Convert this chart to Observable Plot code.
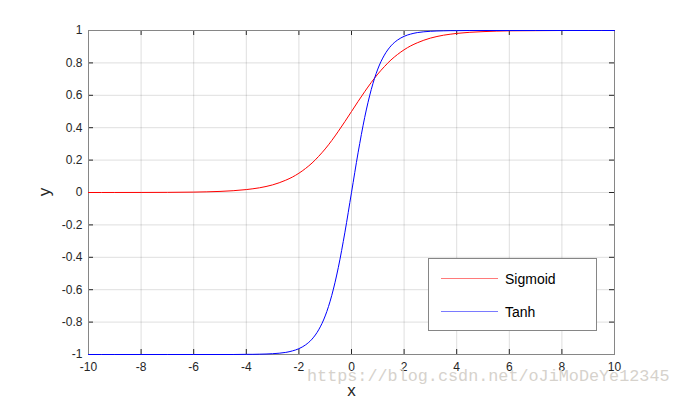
<!DOCTYPE html>
<html>
<head>
<meta charset="utf-8">
<script src="https://cdn.jsdelivr.net/npm/d3@7"></script>
<script src="https://cdn.jsdelivr.net/npm/@observablehq/plot@0.6"></script>
<style>
  html, body { margin: 0; padding: 0; background: #fff; }
  #wrap { position: relative; width: 680px; height: 399px; overflow: hidden; font-family: "Liberation Sans", Arial, sans-serif; }
  #legend { position: absolute; left: 428px; top: 258px; width: 167px; height: 71px; border: 1px solid #868686; background: #fff; box-sizing: content-box; }
  .li { position: absolute; left: 12px; height: 20px; width: 160px; }
  .li .sw { position: absolute; left: 0; top: 9px; width: 57px; height: 0; border-top: 1px solid; }
  .li .lb { position: absolute; left: 64px; top: 0; font-size: 14px; line-height: 20px; color: #000; }
  #wm { position: absolute; left: 307px; top: 367px; font-family: "Liberation Mono", "DejaVu Sans Mono", monospace; font-size: 16.8px; color: #d6d2cc; white-space: nowrap; }
</style>
</head>
<body>
<div id="wrap"></div>
<script>
const xValues = [-10, -9, -8, -7, -6, -5, -4.5, -4, -3.75, -3.5, -3.25, -3, -2.75, -2.5, -2.25, -2, -1.75, -1.5, -1.25, -1, -0.75, -0.5, -0.25, 0, 0.25, 0.5, 0.75, 1, 1.25, 1.5, 1.75, 2, 2.25, 2.5, 2.75, 3, 3.25, 3.5, 3.75, 4, 4.5, 5, 6, 7, 8, 9, 10];
const sigmoidValues = [0.000, 0.0001, 0.0003, 0.0009, 0.0025, 0.0067, 0.011, 0.018, 0.023, 0.029, 0.037, 0.047, 0.060, 0.076, 0.095, 0.119, 0.148, 0.182, 0.223, 0.269, 0.321, 0.378, 0.438, 0.500, 0.562, 0.622, 0.679, 0.731, 0.777, 0.818, 0.852, 0.881, 0.905, 0.924, 0.940, 0.953, 0.963, 0.971, 0.977, 0.982, 0.989, 0.993, 0.998, 0.999, 1.000, 1.000, 1.000];
const tanhValues = [-1, -1, -1, -1, -1, -1, -1, -0.999, -0.999, -0.998, -0.997, -0.995, -0.992, -0.987, -0.978, -0.964, -0.941, -0.905, -0.848, -0.762, -0.635, -0.462, -0.245, 0, 0.245, 0.462, 0.635, 0.762, 0.848, 0.905, 0.941, 0.964, 0.978, 0.987, 0.992, 0.995, 0.997, 0.998, 0.999, 0.999, 1, 1, 1, 1, 1, 1, 1];
const xTicks = [-10, -8, -6, -4, -2, 0, 2, 4, 6, 8, 10];
const yTicks = [-1, -0.8, -0.6, -0.4, -0.2, 0, 0.2, 0.4, 0.6, 0.8, 1];
const seriesNames = ["Sigmoid", "Tanh"];
const seriesColors = ["#ff0000", "#0000ff"];
const legendSwatchColors = ["#ff7a7a", "#7a7aff"];
const xLabel = "x";
const yLabel = "y";
const watermark = "https://blog.csdn.net/oJiMoDeYe12345";

const sigData = xValues.map((x, i) => ({x, y: sigmoidValues[i]}));
const tanhData = xValues.map((x, i) => ({x, y: tanhValues[i]}));

const W = 680, H = 399, mL = 88, mR = 66, mT = 30, mB = 45;
const pw = W - mL - mR, ph = H - mT - mB;
const tk = 5;
const fmt = d => String(d);

const chart = Plot.plot({
  width: W, height: H,
  marginLeft: mL, marginRight: mR, marginTop: mT, marginBottom: mB,
  style: {fontFamily: "'Liberation Sans', Arial, sans-serif", fontSize: "12px", color: "#262626", background: "#fff"},
  x: {domain: [-10, 10]},
  y: {domain: [-1, 1]},
  marks: [
    Plot.gridX(xTicks, {stroke: "#000", strokeOpacity: 0.13}),
    Plot.gridY(yTicks, {stroke: "#000", strokeOpacity: 0.13}),
    Plot.axisX(xTicks, {tickSize: 0, tickPadding: 8, fontSize: 12, fill: "#262626", tickFormat: fmt, label: xLabel, labelAnchor: "center", labelArrow: "none", labelOffset: 41}),
    Plot.axisY(yTicks, {tickSize: 0, tickPadding: 6, fontSize: 12, fill: "#262626", tickFormat: fmt, label: null}),
    Plot.ruleX(xTicks, {x: d => d, insetTop: ph - tk, stroke: "#262626"}),
    Plot.ruleX(xTicks, {x: d => d, insetBottom: ph - tk, stroke: "#262626"}),
    Plot.ruleY(yTicks, {y: d => d, insetRight: pw - tk, stroke: "#262626"}),
    Plot.ruleY(yTicks, {y: d => d, insetLeft: pw - tk, stroke: "#262626"}),
    Plot.frame({stroke: "#868686", strokeWidth: 1}),
    Plot.line(sigData, {x: "x", y: "y", stroke: seriesColors[0], strokeWidth: 1, curve: "monotone-x"}),
    Plot.line(tanhData, {x: "x", y: "y", stroke: seriesColors[1], strokeWidth: 1, curve: "monotone-x"})
  ]
});

const wrap = document.getElementById("wrap");
wrap.appendChild(chart);

const svg = d3.select(chart);
svg.selectAll("[aria-label='x-axis label'] text").style("font-size", "17px").attr("fill", "#262626");
svg.selectAll("[aria-label='x-axis label']").style("font-size", "17px");

svg.append("text")
  .attr("transform", `translate(${mL - 38},${mT + ph / 2}) rotate(-90)`)
  .attr("text-anchor", "middle")
  .attr("font-size", 17)
  .attr("fill", "#262626")
  .text(yLabel);

// legend
const legend = document.createElement("div");
legend.id = "legend";
seriesNames.forEach((name, i) => {
  const item = document.createElement("div");
  item.className = "li";
  item.style.top = (10 + i * 33) + "px";
  const sw = document.createElement("div");
  sw.className = "sw";
  sw.style.borderTopColor = legendSwatchColors[i];
  const lb = document.createElement("div");
  lb.className = "lb";
  lb.textContent = name;
  item.appendChild(sw);
  item.appendChild(lb);
  legend.appendChild(item);
});
wrap.appendChild(legend);

const wm = document.createElement("div");
wm.id = "wm";
wm.textContent = watermark;
wrap.appendChild(wm);
</script>
</body>
</html>
